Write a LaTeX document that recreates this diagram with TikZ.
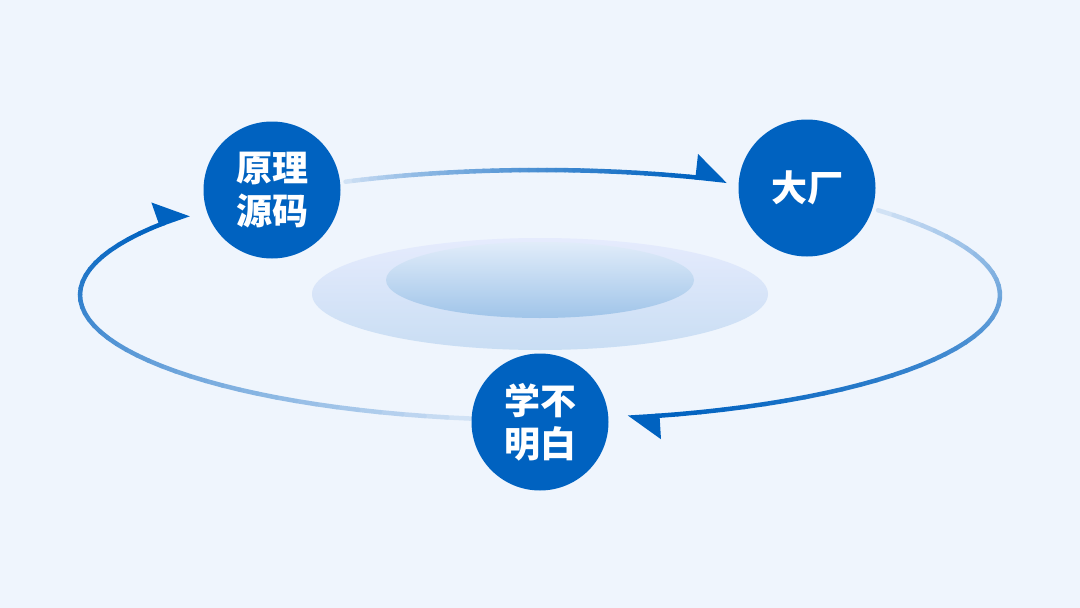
\documentclass[tikz,border=0pt]{standalone}
\usepackage{fontspec}
\newfontfamily\cjk{Noto Sans CJK SC}
\usetikzlibrary{arrows.meta}
\definecolor{bgblue}{HTML}{EFF5FD}
\definecolor{ringblue}{HTML}{0062C0}
\definecolor{fadeblue}{HTML}{E2ECF9}

\begin{document}
\begin{tikzpicture}[x=1pt, y=-1pt,
  hub/.style={circle, fill=ringblue, minimum size=137pt, inner sep=0pt, text=white, align=center,
    font=\cjk\bfseries\fontsize{36}{43}\selectfont},
  ring/.style={line width=4.5pt, line cap=round},
  tip/.style={line width=4.5pt, -{Triangle[left, length=29pt, width=46pt]}}]
  \fill[bgblue] (0,0) rectangle (1080,608);
  % the pool in the middle
  \shade[top color=blue!4!bgblue, bottom color=ringblue!16!bgblue] (540,294) ellipse [x radius=228, y radius=56];
  \shade[top color=ringblue!6!bgblue, bottom color=ringblue!33!bgblue] (540,280) ellipse [x radius=154, y radius=38];
  % the ring: ellipse at (540,295), radii 460 x 125, start/end/gap in degrees
  \foreach \sa/\ea/\gap/\n in {115/66/4/top, 42.7/-79/3.5/right, 261.3/139.7/5/left} {
    \pgfmathsetmacro\ec{\ea-(\ea-\sa)/abs(\ea-\sa)*\gap}
    \foreach \i in {1,...,40} {
      \pgfmathsetmacro\ta{\sa+(\ec-\sa)*(\i-1)/40}
      \pgfmathsetmacro\tb{\sa+(\ec-\sa)*\i/40}
      \pgfmathsetmacro\p{100*(\i/40)^0.7}
      \draw[ring, ringblue!\p!fadeblue] ({540+460*cos(\ta)}, {295-125*sin(\ta)}) -- ({540+460*cos(\tb)}, {295-125*sin(\tb)});
    }
    \coordinate (\n-base) at ({540+460*cos(\ec)}, {295-125*sin(\ec)});
    \coordinate (\n-tip) at ({540+460*cos(\ea)}, {295-125*sin(\ea)});
    \draw[tip, ringblue] (\n-base) -- (\n-tip);
  }
  \node[hub] (yuanli) at (272,190) {原理\\源码};
  \node[hub] (dachang) at (807,188) {大厂};
  \node[hub] (xuebu) at (540,422) {学不\\明白};
\end{tikzpicture}
\end{document}
